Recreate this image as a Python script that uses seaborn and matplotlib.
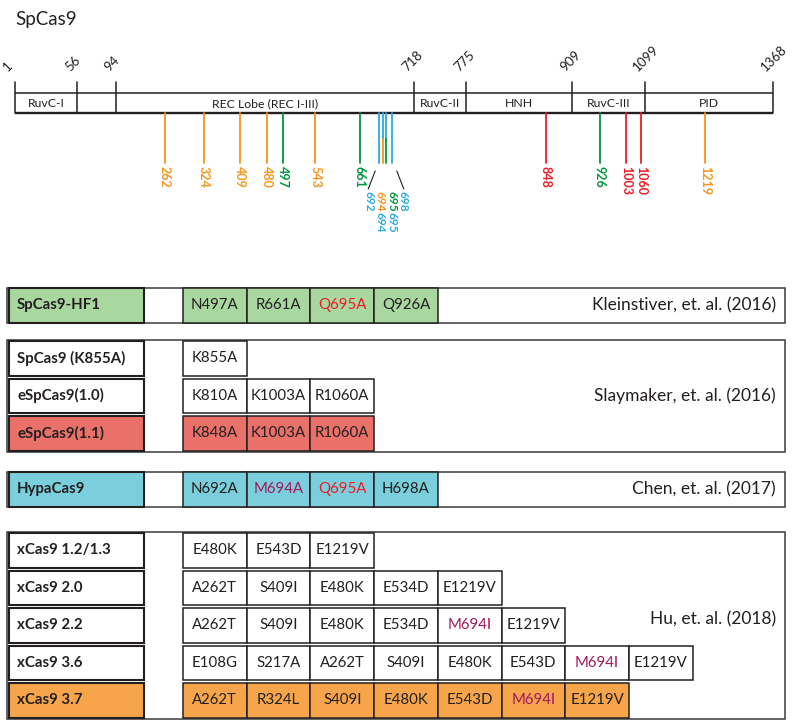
import numpy as np
import matplotlib
matplotlib.use("Agg")
import matplotlib.pyplot as plt
import seaborn as sns
from matplotlib.patches import Rectangle

# ---------------- data ----------------
title = "SpCas9"
domain_bounds = [1, 56, 94, 718, 775, 909, 1099, 1368]
domain_names = ["RuvC-I", "", "REC Lobe (REC I-III)", "RuvC-II", "HNH", "RuvC-III", "PID"]

# schematic (non-linear) residue -> drawing position knots of the domain map
knot_res = [1, 56, 94, 262, 324, 409, 480, 497, 543, 661, 692, 694, 695, 698,
            718, 775, 848, 909, 926, 1003, 1060, 1099, 1219, 1368]
knot_pos = [15, 77, 116, 165, 204, 240, 267, 283, 315, 360, 379, 383, 385.5, 392,
            414, 466, 546, 572, 600, 626, 641, 645, 705, 773]

sites_hf1 = [497, 661, 695, 926]
sites_espcas9 = [848, 1003, 1060]
sites_hypa = [692, 694, 695, 698]
sites_xcas9 = [262, 324, 409, 480, 543, 694, 1219]

hf1_names = ["SpCas9-HF1"]
hf1_muts = [["N497A", "R661A", "Q695A", "Q926A"]]
slay_names = ["SpCas9 (K855A)", "eSpCas9(1.0)", "eSpCas9(1.1)"]
slay_muts = [["K855A"], ["K810A", "K1003A", "R1060A"], ["K848A", "K1003A", "R1060A"]]
hypa_names = ["HypaCas9"]
hypa_muts = [["N692A", "M694A", "Q695A", "H698A"]]
hu_names = ["xCas9 1.2/1.3", "xCas9 2.0", "xCas9 2.2", "xCas9 3.6", "xCas9 3.7"]
hu_muts = [["E480K", "E543D", "E1219V"],
           ["A262T", "S409I", "E480K", "E534D", "E1219V"],
           ["A262T", "S409I", "E480K", "E534D", "M694I", "E1219V"],
           ["E108G", "S217A", "A262T", "S409I", "E480K", "E543D", "M694I", "E1219V"],
           ["A262T", "R324L", "S409I", "E480K", "E543D", "M694I", "E1219V"]]
citations = ["Kleinstiver, et. al. (2016)", "Slaymaker, et. al. (2016)",
             "Chen, et. al. (2017)", "Hu, et. al. (2018)"]

# ---------------- style ----------------
sns.set_theme(style="white")
plt.rcParams['font.family'] = ['Lato', 'DejaVu Sans']

C_OR = "#F7941D"
C_GR = "#00963F"
C_RD = "#ED1C24"
C_BL = "#29ABE2"
C_PU = "#A0195E"
INK = "#231F20"
fill = {"SpCas9-HF1": "#A9D7A0", "eSpCas9(1.1)": "#E9716A",
        "HypaCas9": "#7BCEDB", "xCas9 3.7": "#F7A54B"}

fig = plt.figure(figsize=(8, 7.26), dpi=100)

# ---- domain map axes: x in residues through a schematic function scale ----
def fwd(r):
    return np.interp(r, knot_res, knot_pos)

def inv(p):
    return np.interp(p, knot_pos, knot_res)

x0, x1 = 15, 773
axm = fig.add_axes([x0 / 800, 0, (x1 - x0) / 800, 1])
axm.set_xscale('function', functions=(fwd, inv))
axm.set_xlim(1, 1368)
axm.set_ylim(726, 0)
axm.axis('off')

fig.text(15 / 800, 1 - 19 / 726, title, fontsize=13.5, color=INK, va='center', ha='left')

bar_top, bar_bot, tick_top = 93, 113, 82
axm.plot([1, 1368], [bar_top, bar_top], color=INK, lw=1.1, solid_capstyle='butt', clip_on=False)
axm.plot([1, 1368], [bar_bot, bar_bot], color=INK, lw=1.7, solid_capstyle='butt', clip_on=False)
for b in domain_bounds:
    axm.plot([b, b], [tick_top, bar_bot], color=INK, lw=1.1, clip_on=False)
    axm.annotate(str(b), xy=(b, 73), xytext=(-4, 0), textcoords='offset points',
                 rotation=45, rotation_mode='anchor', ha='left', va='bottom',
                 fontsize=9.5, color=INK, annotation_clip=False)
for i, name in enumerate(domain_names):
    mid = inv((fwd(domain_bounds[i]) + fwd(domain_bounds[i + 1])) / 2)
    axm.text(mid, 103.5, name, ha='center', va='center', fontsize=8.8, color=INK)

# mutation sites
groups = [(sites_hf1, C_GR), (sites_espcas9, C_RD), (sites_xcas9, C_OR), (sites_hypa, C_BL)]
all_sites = sorted(set(sites_hf1 + sites_espcas9 + sites_hypa + sites_xcas9))
line_top, line_split, line_bot = 113, 139, 163
cluster = [s for s in all_sites if 680 < s < 710]
for s in all_sites:
    cols = [c for (lst, c) in groups if s in lst]
    if len(cols) == 1:
        axm.plot([s, s], [line_top, line_bot], color=cols[0], lw=1.3)
    else:
        axm.plot([s, s], [line_top, line_split], color=cols[-1], lw=1.3)
        axm.plot([s, s], [line_split, line_bot], color=cols[0], lw=1.3)
    if s not in cluster:
        axm.text(s, 166, str(s), rotation=-90, ha='center', va='top',
                 fontsize=9, fontweight='bold', color=cols[0])

# cluster labels, spread out with leader lines
c_mid = (fwd(cluster[0]) + fwd(cluster[-1])) / 2 + 0.5
spacing = 11.2
for i, s in enumerate(cluster):
    cols = [c for (lst, c) in groups if s in lst]
    xp = inv(c_mid + (i - (len(cluster) - 1) / 2) * spacing)
    for j, c in enumerate(cols):
        axm.text(xp, 191 + j * 21, str(s), rotation=-90, ha='center', va='top',
                 fontsize=8.5, fontweight='bold', color=c)
left_lbl = c_mid - 1.5 * spacing
right_lbl = c_mid + 1.5 * spacing
axm.plot([inv(left_lbl + 6), inv(left_lbl - 1)], [171, 189], color=INK, lw=0.8)
axm.plot([inv(right_lbl - 6), inv(right_lbl + 1)], [171, 189], color=INK, lw=0.8)

# ---- table axes in layout units ----
axt = fig.add_axes([0, 0, 1, 1])
axt.set_xlim(0, 800)
axt.set_ylim(726, 0)
axt.axis('off')

name_x0, name_x1 = 9, 144
cell_x0, cell_w = 183, 63.7
row_h, pitch = 34.5, 37.5
box_x0, box_x1 = 7, 785

def mut_color(m):
    if m[1:-1] == "695":
        return C_RD
    if m[1:-1] == "694":
        return C_PU
    return INK

group_tables = [(hf1_names, hf1_muts, 288), (slay_names, slay_muts, 341),
                (hypa_names, hypa_muts, 472), (hu_names, hu_muts, 533)]
for (names, muts, top), cite in zip(group_tables, citations):
    n = len(names)
    g_top = top - 1 if n > 1 else top
    g_bot = top + (n - 1) * pitch + row_h + (1 if n > 1 else 0)
    axt.add_patch(Rectangle((box_x0, g_top), box_x1 - box_x0, g_bot - g_top,
                            facecolor='white', edgecolor="#3a3a3a", lw=1.1, zorder=1))
    for k, (nm, ml) in enumerate(zip(names, muts)):
        y = top + k * pitch
        fc = fill.get(nm, 'white')
        axt.add_patch(Rectangle((name_x0, y), name_x1 - name_x0, row_h,
                                facecolor=fc, edgecolor=INK, lw=1.5, zorder=2))
        axt.text(name_x0 + 8, y + row_h / 2, nm, ha='left', va='center',
                 fontsize=10.8, fontweight='bold', color=INK, zorder=3)
        for ci, m in enumerate(ml):
            cx = cell_x0 + ci * cell_w
            axt.add_patch(Rectangle((cx, y), cell_w, row_h, facecolor=fc,
                                    edgecolor=INK, lw=1.1, zorder=2))
            axt.text(cx + cell_w / 2, y + row_h / 2, m, ha='center', va='center',
                     fontsize=10.8, color=mut_color(m), zorder=3)
    cy = (g_top + g_bot) / 2 - (6 if n > 3 else 0)
    axt.text(box_x1 - 9, cy, cite, ha='right', va='center',
             fontsize=12.5, color=INK, zorder=3)

fig.savefig("out.png", dpi=100)
